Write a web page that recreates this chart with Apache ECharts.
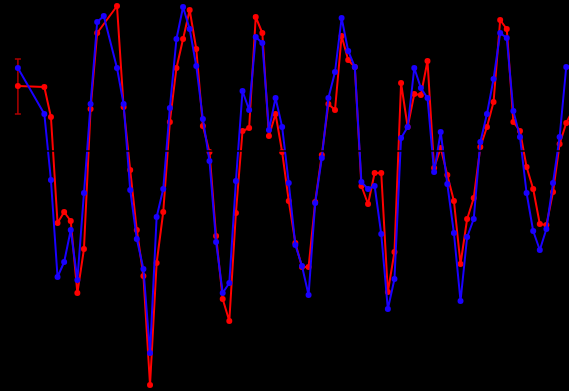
<!DOCTYPE html>
<html>
<head>
<meta charset="utf-8">
<script src="https://cdn.jsdelivr.net/npm/echarts@6/dist/echarts.min.js"></script>
<style>
  html, body { margin: 0; padding: 0; background: #000; }
  #chart { width: 569px; height: 391px; }
</style>
</head>
<body>
<div id="chart"></div>
<script>
// step index along the x axis (0..84), null = no point at that step
var redValues = [
  0.65, null, null, null, 0.64, 0.34, -0.72, -0.61, -0.70, -1.42,
  -0.98, 0.42, 1.18, null, null, 1.45, 0.44, -0.19, -0.79, -1.25,
  -2.34, -1.12, -0.61, 0.29, 0.83, 1.12, 1.41, 1.02, 0.25, -0.01,
  -0.85, -1.48, -1.70, -0.62, 0.20, 0.23, 1.34, 1.18, 0.15, 0.37,
  -0.01, -0.50, -0.92, -1.16, -1.16, -0.51, -0.04, 0.47, 0.41, 1.15,
  0.91, 0.84, -0.35, -0.53, -0.22, -0.22, -1.41, -1.01, 0.68, 0.24,
  0.57, 0.56, 0.90, -0.17, 0.03, -0.24, -0.50, -1.13, -0.68, -0.47,
  0.04, 0.24, 0.49, 1.31, 1.22, 0.29, 0.20, -0.16, -0.38, -0.73,
  -0.74, -0.41, 0.07, 0.28, 0.41
];
var blueValues = [
  0.83, null, null, null, 0.37, -0.29, -1.26, -1.11, -0.79, -1.29,
  -0.42, 0.47, 1.29, 1.35, null, 0.83, 0.47, -0.39, -0.88, -1.18,
  -2.02, -0.66, -0.38, 0.43, 1.12, 1.44, 1.22, 0.85, 0.32, -0.10,
  -0.91, -1.42, -1.32, -0.30, 0.60, 0.41, 1.14, 1.08, 0.21, 0.53,
  0.24, -0.32, -0.94, -1.15, -1.44, -0.52, -0.07, 0.53, 0.79, 1.33,
  1.00, 0.84, -0.31, -0.38, -0.35, -0.83, -1.58, -1.28, 0.13, 0.24,
  0.83, 0.63, 0.53, -0.21, 0.19, -0.33, -0.82, -1.50, -0.86, -0.68,
  0.09, 0.37, 0.72, 1.18, 1.13, 0.40, 0.14, -0.42, -0.80, -0.99,
  -0.78, -0.32, 0.14, 0.84, null
];
// error bar on the first red point: [index, low, high]
var redError = [[0, 0.37, 0.92]];

function toPairs(values) {
  var out = [];
  values.forEach(function (v, i) {
    if (v !== null) out.push([i, v]);
  });
  return out;
}

var chart = echarts.init(document.getElementById('chart'));

var option = {
  backgroundColor: '#000',
  animation: false,
  grid: { left: 0, right: 0, top: 0, bottom: 0 },
  xAxis: {
    type: 'value',
    min: -2.71,
    max: 83.42,
    show: false
  },
  yAxis: {
    type: 'value',
    min: -2.40,
    max: 1.51,
    show: false
  },
  series: [
    {
      type: 'custom',
      name: 'err',
      data: redError,
      z: 1,
      renderItem: function (params, api) {
        var lo = api.coord([api.value(0), api.value(1)]);
        var hi = api.coord([api.value(0), api.value(2)]);
        var w = 3;
        var style = { stroke: '#b00000', lineWidth: 1.5 };
        return {
          type: 'group',
          children: [
            { type: 'line', shape: { x1: lo[0], y1: lo[1], x2: hi[0], y2: hi[1] }, style: style },
            { type: 'line', shape: { x1: lo[0] - w, y1: lo[1], x2: lo[0] + w, y2: lo[1] }, style: style },
            { type: 'line', shape: { x1: hi[0] - w, y1: hi[1], x2: hi[0] + w, y2: hi[1] }, style: style }
          ]
        };
      }
    },
    {
      type: 'line',
      name: 'red',
      data: toPairs(redValues),
      symbol: 'circle',
      symbolSize: 6,
      showAllSymbol: true,
      lineStyle: { color: '#ff0000', width: 2 },
      itemStyle: { color: '#ff0000' },
      z: 2
    },
    {
      type: 'line',
      name: 'blue',
      data: toPairs(blueValues),
      symbol: 'circle',
      symbolSize: 6,
      showAllSymbol: true,
      lineStyle: { color: '#1a00ff', width: 2 },
      itemStyle: { color: '#1a00ff' },
      z: 3,
      markLine: {
        silent: true,
        symbol: 'none',
        label: { show: false },
        lineStyle: { color: '#000', width: 1.5, type: 'solid' },
        data: [{ yAxis: 0 }]
      }
    }
  ]
};

chart.setOption(option);
</script>
</body>
</html>
